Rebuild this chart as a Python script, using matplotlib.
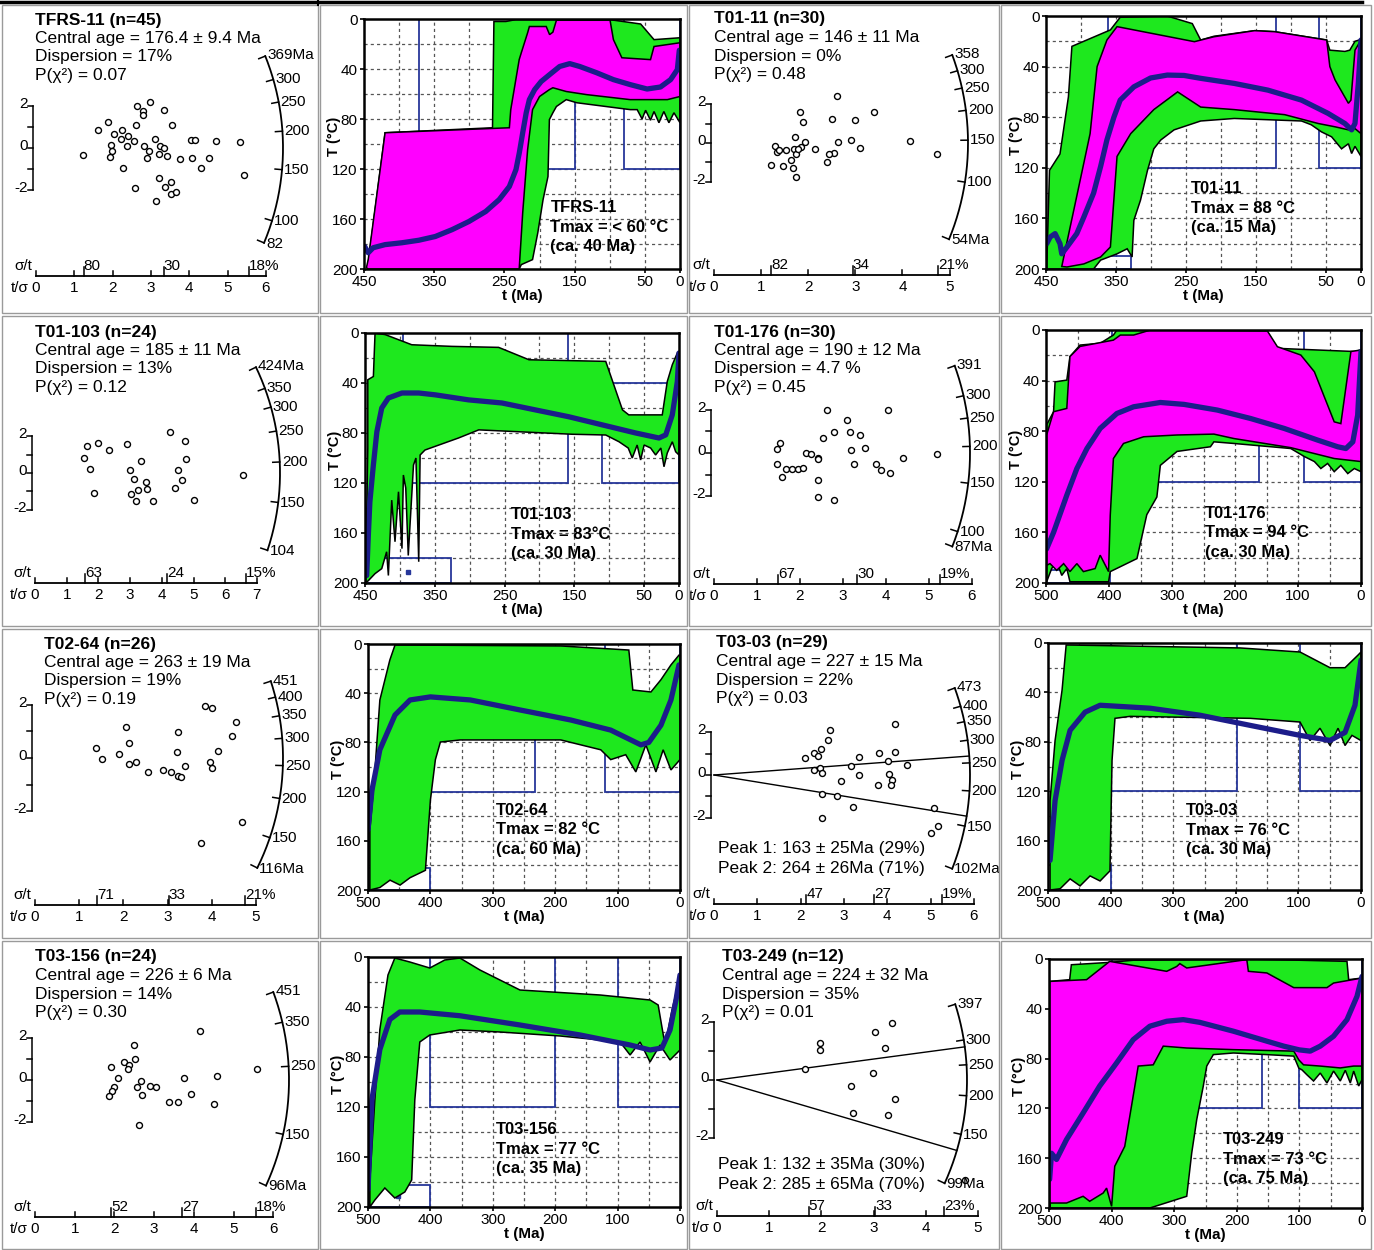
import numpy as np
import matplotlib
matplotlib.use('Agg')
import matplotlib.pyplot as plt
from matplotlib.patches import Rectangle, Polygon
from matplotlib.lines import Line2D

plt.rcParams['font.family'] = ['Liberation Sans', 'DejaVu Sans']

FW, FH = 1374, 1250
GREEN = '#1ee81e'
MAGENTA = '#ff00ff'
NAVY = '#1c1c8a'
BOXC = '#27379a'

# ---------------- radial plot data: (t/sigma, standardised estimate) ----------------
tfrs11_grains = [(1.22, -0.34), (1.61, 0.88), (1.87, 1.23), (1.96, 0.13), (1.98, -0.13), (1.94, -0.45),
                 (2.04, 0.66), (2.24, 0.85), (2.22, 0.45), (2.27, -0.94), (2.37, 0.11), (2.41, 0.56),
                 (2.55, 0.35), (2.60, 1.09), (2.59, -1.92), (2.65, 2.03), (2.79, 1.79), (2.79, 1.57),
                 (2.97, 2.21), (2.83, 0.11), (2.94, -0.16), (2.91, -0.48), (3.12, 0.45), (3.21, -0.27),
                 (3.24, 0.11), (3.35, -0.02), (3.35, 1.84), (3.43, -0.40), (3.20, -1.44), (3.37, -1.89),
                 (3.52, -1.65), (3.53, -2.22), (3.66, -2.13), (3.14, -2.53), (3.56, 1.09), (3.77, -0.53),
                 (4.06, 0.37), (4.16, 0.40), (4.07, -0.50), (4.30, -0.96), (4.53, -0.50), (4.70, 0.32),
                 (5.33, 0.29), (5.42, -1.28)]
t0111_grains = [(2.62, 2.40), (1.82, 1.58), (3.39, 1.61), (1.89, 1.08), (2.51, 1.24), (2.99, 1.17),
                (1.73, 0.31), (1.94, 0.05), (1.84, -0.22), (1.70, -0.29), (1.75, -0.55), (2.15, -0.33),
                (2.64, 0.07), (2.91, 0.14), (3.10, -0.27), (2.54, -0.52), (2.45, -0.57), (2.40, -0.98),
                (1.53, -0.36), (1.34, -0.48), (1.29, -0.17), (1.63, -0.86), (1.46, -1.18), (1.21, -1.13),
                (1.68, -1.29), (1.75, -1.75), (4.17, 0.12), (4.74, -0.55), (1.38, -0.38), (1.78, -0.31)]
t01103_grains = [(1.63, 1.47), (1.98, 1.65), (2.33, 1.27), (1.53, 0.82), (1.74, 0.22), (1.87, -1.07),
                 (2.89, 1.58), (3.35, 0.67), (3.00, 0.16), (3.11, -0.33), (3.49, -0.49), (3.53, -0.89),
                 (3.24, -0.95), (3.03, -1.13), (3.19, -1.53), (3.72, -1.53), (4.26, 2.24), (4.72, 1.75),
                 (4.76, 0.75), (4.52, 0.16), (4.65, -0.38), (4.42, -0.82), (5.03, -1.47), (6.56, -0.11)]
t01176_grains = [(2.62, 1.98), (4.05, 1.98), (3.09, 1.55), (2.78, 0.96), (3.16, 0.95), (3.40, 0.82),
                 (2.53, 0.71), (1.53, 0.48), (1.47, 0.17), (2.15, 0.00), (2.26, -0.03), (2.43, -0.25),
                 (3.18, 0.14), (3.51, 0.22), (4.40, -0.22), (5.19, -0.03), (1.46, -0.51), (1.58, -1.10),
                 (1.68, -0.76), (1.82, -0.74), (1.95, -0.74), (2.08, -0.71), (3.26, -0.51), (3.76, -0.51),
                 (3.88, -0.78), (4.09, -0.91), (2.43, -1.27), (2.43, -2.02), (2.78, -2.17), (2.42, -0.28)]
t0264_grains = [(1.38, 0.38), (1.52, -0.04), (2.05, 1.16), (2.13, 0.58), (1.90, 0.16), (2.13, -0.23),
                (2.28, -0.16), (2.55, -0.54), (2.90, -0.44), (3.07, -0.54), (3.23, -0.66), (3.30, -0.71),
                (3.39, -0.31), (3.21, 0.22), (3.24, 0.98), (3.85, 1.94), (4.00, 1.88), (4.54, 1.36),
                (4.46, 0.83), (4.14, 0.28), (3.97, -0.15), (4.00, -0.39), (4.69, -2.40), (3.76, -3.20)]
t0303_grains = [(4.17, 2.39), (2.69, 2.11), (2.63, 1.64), (2.46, 1.22), (2.31, 1.02), (2.40, 0.91),
                (2.11, 0.78), (3.80, 1.02), (4.18, 1.09), (3.35, 0.86), (4.02, 0.66), (4.46, 0.48),
                (3.17, 0.42), (2.30, 0.23), (2.44, 0.31), (2.50, 0.11), (3.35, 0.00), (4.05, 0.03),
                (2.94, -0.28), (3.78, -0.48), (4.12, -0.23), (4.08, -0.47), (2.49, -0.89), (2.85, -0.97),
                (3.22, -1.52), (2.49, -2.03), (5.09, -1.56), (5.17, -2.38), (5.00, -2.72)]
t03156_grains = [(4.16, 2.33), (2.50, 1.67), (2.24, 0.87), (2.37, 0.72), (2.33, 0.54), (2.53, 1.00),
                 (1.91, 0.61), (2.09, 0.09), (2.00, -0.31), (1.93, -0.52), (1.86, -0.76), (2.66, -0.03),
                 (2.57, -0.31), (2.69, -0.70), (2.89, -0.28), (3.06, -0.35), (3.76, 0.11), (3.92, -0.66),
                 (3.38, -1.02), (3.60, -1.05), (4.50, -1.14), (4.59, 0.18), (5.58, 0.51), (2.61, -2.14)]
t03249_grains = [(1.97, 1.28), (1.97, 1.03), (1.69, 0.38), (2.57, -0.21), (2.61, -1.14), (3.03, 1.66),
                 (2.99, 0.24), (3.22, 1.10), (3.35, 1.97), (3.28, -1.21), (3.41, -0.66), (4.75, -3.45)]

RADIAL = [
    dict(title='TFRS-11 (n=45)', lines=['Central age = 176.4 ± 9.4 Ma', 'Dispersion = 17%', 'P(χ²) = 0.07'],
         central=176.4, arc=[369, 300, 250, 200, 150, 100, 82],
         arc_labels=['369Ma', '300', '250', '200', '150', '100', '82'],
         tsmax=6, rel_err=[80, 30, 18], peaks=[], peak_lines=[], grains=tfrs11_grains),
    dict(title='T01-11 (n=30)', lines=['Central age = 146 ± 11 Ma', 'Dispersion = 0%', 'P(χ²) = 0.48'],
         central=146, arc=[358, 300, 250, 200, 150, 100, 54],
         arc_labels=['358', '300', '250', '200', '150', '100', '54Ma'],
         tsmax=5, rel_err=[82, 34, 21], peaks=[], peak_lines=[], grains=t0111_grains),
    dict(title='T01-103 (n=24)', lines=['Central age = 185 ± 11 Ma', 'Dispersion = 13%', 'P(χ²) = 0.12'],
         central=185, arc=[424, 350, 300, 250, 200, 150, 104],
         arc_labels=['424Ma', '350', '300', '250', '200', '150', '104'],
         tsmax=7, rel_err=[63, 24, 15], peaks=[], peak_lines=[], grains=t01103_grains),
    dict(title='T01-176 (n=30)', lines=['Central age = 190 ± 12 Ma', 'Dispersion = 4.7 %', 'P(χ²) = 0.45'],
         central=190, arc=[391, 300, 250, 200, 150, 100, 87],
         arc_labels=['391', '300', '250', '200', '150', '100', '87Ma'],
         tsmax=6, rel_err=[67, 30, 19], peaks=[], peak_lines=[], grains=t01176_grains),
    dict(title='T02-64 (n=26)', lines=['Central age = 263 ± 19 Ma', 'Dispersion = 19%', 'P(χ²) = 0.19'],
         central=263, arc=[451, 400, 350, 300, 250, 200, 150, 116],
         arc_labels=['451', '400', '350', '300', '250', '200', '150', '116Ma'],
         tsmax=5, rel_err=[71, 33, 21], peaks=[], peak_lines=[], grains=t0264_grains),
    dict(title='T03-03 (n=29)', lines=['Central age = 227 ± 15 Ma', 'Dispersion = 22%', 'P(χ²) = 0.03'],
         central=227, arc=[473, 400, 350, 300, 250, 200, 150, 102],
         arc_labels=['473', '400', '350', '300', '250', '200', '150', '102Ma'],
         tsmax=6, rel_err=[47, 27, 19], peaks=[163, 264],
         peak_lines=['Peak 1: 163 ± 25Ma (29%)', 'Peak 2: 264 ± 26Ma (71%)'], grains=t0303_grains),
    dict(title='T03-156 (n=24)', lines=['Central age = 226 ± 6 Ma', 'Dispersion = 14%', 'P(χ²) = 0.30'],
         central=226, arc=[451, 350, 250, 150, 96],
         arc_labels=['451', '350', '250', '150', '96Ma'],
         tsmax=6, rel_err=[52, 27, 18], peaks=[], peak_lines=[], grains=t03156_grains),
    dict(title='T03-249 (n=12)', lines=['Central age = 224 ± 32 Ma', 'Dispersion = 35%', 'P(χ²) = 0.01'],
         central=224, arc=[397, 300, 250, 200, 150, 99],
         arc_labels=['397', '300', '250', '200', '150', '99Ma'],
         tsmax=5, rel_err=[57, 33, 23], peaks=[132, 285],
         peak_lines=['Peak 1: 132 ± 35Ma (30%)', 'Peak 2: 285 ± 65Ma (70%)'], grains=t03249_grains),
]

# layout of each radial cell (pixels relative to the cell corner)
RAD_LAYOUT = [
    dict(cell=(0, 0), origin=(36, 148), sx=38.3, sy=20.8, R=247, axis_y=276, text=(35, 20)),
    dict(cell=(688, 0), origin=(26, 143), sx=47.1, sy=19.4, R=254, axis_y=275, text=(26, 19)),
    dict(cell=(0, 315), origin=(35, 158), sx=31.7, sy=18.3, R=245, axis_y=268, text=(35, 17)),
    dict(cell=(688, 315), origin=(26, 138), sx=43.0, sy=21.6, R=256, axis_y=269, text=(26, 17)),
    dict(cell=(0, 628), origin=(35, 130), sx=44.2, sy=26.7, R=248, axis_y=277, text=(44, 16)),
    dict(cell=(688, 628), origin=(26, 147), sx=43.3, sy=21.3, R=256, axis_y=276, text=(28, 15), peak_text=(30, 221)),
    dict(cell=(0, 940), origin=(35, 140), sx=39.7, sy=21.2, R=254, axis_y=277, text=(35, 17)),
    dict(cell=(688, 940), origin=(29, 140), sx=52.2, sy=29.0, R=250, axis_y=276, text=(34, 17), peak_text=(30, 225)),
]

# ---------------- thermal history data: (t in Ma, T in degC) ----------------
tfrs11_acc = [(444, 195), (420, 91), (267, 87), (265, 2), (248, 2), (234, 0.5), (100, 0.5), (56, 4), (37, 16.5),
              (0, 15), (0, 83), (8.6, 75), (15.8, 83), (23, 74), (30, 83), (37, 74), (42, 81), (49, 73), (54, 80),
              (61, 72.5), (71, 72.5), (147, 67), (162, 64.5), (176, 70), (181, 75), (186, 80.5), (188, 126),
              (195, 144.5), (202.5, 171), (210, 192.5), (226, 196.5), (229, 200), (377, 200), (380, 192.5),
              (415.5, 195), (420, 199), (444, 198)]
tfrs11_good = [(446.6, 199), (444, 192.5), (420, 91), (243, 87), (241, 72.5), (229, 32.5), (226, 27), (217, 11),
               (214.5, 6), (190.5, 6), (185.7, 12.5), (181, 10.5), (176, 1), (99.6, 1), (94.8, 16.5), (82.8, 31),
               (42, 32.5), (37, 22), (0, 19), (0, 62), (18, 64.5), (42, 64.5), (71, 64.5), (133, 60.5), (162, 58),
               (181, 55), (186, 56.5), (200, 62), (210, 72.5), (217, 104.5), (224, 155), (229, 200), (444, 200)]
tfrs11_best = [(449, 182), (444, 187), (437, 183), (420, 180.5), (396, 179), (372, 177), (348.5, 174),
               (324.5, 168.5), (300.6, 162), (276.7, 154), (257.5, 144.5), (243, 134), (233.6, 120.5),
               (228.8, 107), (224, 91), (219, 75), (214.5, 64.5), (207, 56.5), (197.7, 50), (185.7, 44.5),
               (171.4, 38), (157, 35.7), (142.7, 38), (118.7, 43), (94.8, 48.5), (70.8, 52.5), (46.9, 56),
               (27.8, 54.4), (13.4, 48.5), (3.8, 40.5), (1, 25)]
tfrs11_boxes = [(371, 150, 0, 120), (80, 0, 0, 120)]

t0111_acc = [(449, 200), (445, 122), (430, 109), (418, 64), (413, 24), (358, 11), (344, 1), (277, 0), (241, 6),
             (229, 19), (210, 16), (152, 11.6), (123.5, 12.4), (49, 19), (44.5, 27), (23, 28), (16, 27), (8.6, 20),
             (0, 18.5), (0, 111), (8.6, 103), (13.4, 108.7), (18, 101), (27.8, 105), (42, 95.5), (56.5, 91.6),
             (71, 86), (85, 83), (133, 82), (181, 81), (229, 83), (267, 90), (286, 98), (296, 105), (305, 122),
             (315, 145.6), (324.5, 161.5), (327, 190.5), (334, 184), (348.5, 188), (372, 193), (382, 200)]
t0111_good = [(427.5, 198), (387, 93), (377, 40), (363, 19), (348.5, 8.4), (238, 20.3), (210, 16.4), (152, 11.6),
              (123.5, 12.4), (49, 19), (44.5, 40), (37, 50.6), (18, 69), (14.4, 66.5), (8.6, 27), (0, 19),
              (0, 93), (8.6, 89), (18, 90), (37, 87.6), (61, 85), (109, 78), (181, 74), (229, 72), (262, 60),
              (296, 74), (329, 93), (348.5, 111), (358, 182.6), (372, 190.5), (396, 196), (420, 198.4)]
t0111_best = [(449, 180), (444, 174.7), (437, 172), (430, 180), (427.5, 188), (420, 182.6), (406, 172), (396, 159),
              (382, 140), (372, 119), (363, 98), (353, 80), (344, 66.5), (324.5, 56), (300.6, 49), (276.7, 46.7),
              (252.7, 47), (228.8, 49.3), (181, 53.3), (133, 58.6), (85, 66.5), (47, 77), (23, 85), (13.4, 90),
              (8.6, 85), (3.8, 53), (0, 19)]
t0111_boxes = [(450, 328, 190, 200), (361, 121, 0, 120), (60, 0, 0, 120)]

t01103_acc = [(449, 200), (446, 92), (446, 37.4), (438, 34.8), (435.6, 0), (421, 1.3), (383, 9.4), (325.5, 10.7),
              (258.5, 11.5), (215, 21.4), (105, 22.7), (81, 61.5), (72, 65.5), (24, 65.5), (16.8, 38.8),
              (9.6, 25.4), (2.4, 16), (0, 16), (0, 97.6), (4.8, 95), (9.6, 87), (16.8, 96), (21.5, 107), (26, 92),
              (33.5, 97.6), (40.7, 92), (50, 89.6), (55, 101.6), (60, 89.6), (67, 100), (72.8, 92), (86, 87),
              (105, 81.6), (153, 81), (287, 77.5), (316, 84), (364, 93.6), (371, 97.6), (373, 183), (377, 100),
              (380.5, 105.6), (388, 178), (391.6, 124), (395, 113.6), (397, 172.5), (402, 127), (407, 167),
              (411.7, 133.7), (416.5, 194), (419, 175), (426, 188.5), (435.6, 192.5), (445, 198)]
t01103_best = [(447.6, 194), (446, 172.5), (445, 159), (443, 135), (438, 105.6), (433, 79), (426, 60),
               (416.5, 52), (397, 48), (373, 48), (349, 49.5), (301.6, 53.5), (253.7, 56), (206, 61.5), (158, 67),
               (110, 73.5), (62, 80), (28.7, 84), (19, 81.5), (9.6, 65.5), (2.4, 38.8), (0, 16)]
t01103_boxes = [(450, 327, 180, 200), (395, 159, 0, 120), (111, 0, 40, 120)]
t01103_dots = [(389, 191)]

t01176_acc = [(499, 199), (499, 75), (488, 64.6), (485.6, 41), (467, 39.6), (462, 21), (446, 11.9), (414, 10.5),
              (393, 4), (387.5, 0), (297, 0), (148.6, 1.3), (132.7, 14.5), (10.6, 17), (0, 15.8), (0, 112),
              (10.6, 109.5), (21, 113.5), (32, 107), (42.5, 112), (53, 105.5), (63.7, 109.5), (74, 104), (90, 100),
              (111.5, 93.7), (201.7, 89.7), (233.5, 88.4), (239, 92.3), (292, 96), (318.5, 107), (324, 132),
              (340, 146), (355.6, 180.7), (398, 191), (400.7, 199), (462, 199), (467, 188.6), (475, 194),
              (483, 183), (491, 188.6)]
t01176_good = [(499, 186), (499, 83), (488, 64.6), (467, 62), (462, 21), (446, 13), (393, 8), (382, 4), (361, 4),
               (334, 0), (148.6, 0.8), (132.7, 13.2), (95.5, 19.8), (74, 33), (42.5, 72.6), (32, 74), (16, 17),
               (0, 15.8), (0, 104), (42.5, 101.6), (85, 96.3), (111.5, 93), (201.7, 85.8), (233.5, 82.3),
               (292, 83), (345, 84.4), (377, 89.7), (393, 101.6), (398, 146.4), (400.7, 191), (414, 178),
               (422, 188.6), (440.6, 191), (451, 184.7), (462, 191), (472, 184.7), (483, 190), (493.6, 184.7)]
t01176_best = [(499, 173), (488, 160), (467, 130.6), (451, 109.5), (435, 93.7), (414, 77.8), (387.5, 66),
               (361, 60.7), (318.5, 57.3), (281, 58.8), (228, 63.3), (175, 70), (122, 77.8), (69, 87), (37, 92.3),
               (24, 93.7), (13, 88.4), (5.3, 67.3), (0, 17)]
t01176_boxes = [(500, 398, 190, 200), (395, 162, 0, 120), (90, 0, 0, 120)]

t0264_acc = [(497, 200), (497, 151), (490, 110.6), (481, 45.5), (465, 13), (456.7, 0.8), (191, 1.6), (82, 4.9),
             (75.6, 37.4), (46.6, 39), (30.5, 29), (14.5, 17), (1.6, 9), (0, 9), (0, 94), (14.5, 102.4), (27, 86),
             (38.6, 104), (54.7, 82), (70.8, 104), (87, 90), (111, 94), (127, 86), (159, 82), (191, 78), (352, 78),
             (384, 79.7), (392, 94), (400, 127), (408, 184), (432.6, 190), (448.6, 196), (464.7, 192), (481, 198)]
t0264_best = [(500, 151), (493.6, 118.7), (481, 86), (456.7, 57.7), (432.6, 45.5), (400, 43), (336, 45.5),
              (255.7, 53.7), (175, 61.8), (111, 70), (62.7, 82), (50, 80), (30.5, 66), (14.5, 45.5), (1.6, 17)]
t0264_boxes = [(500, 400, 182, 200), (400, 231.6, 0, 120), (120.6, 0, 0, 120)]

t0303_acc = [(496.7, 200), (496.7, 127.6), (488.7, 79), (477.5, 38), (471, 1.6), (193, 4), (97.4, 7.3),
             (49.5, 20), (25.5, 20), (4.8, 9.8), (0, 7.3), (0, 79), (14.4, 74.8), (25.5, 83), (36.7, 69),
             (49.5, 83), (65.5, 69), (81.4, 79), (97.4, 64), (177, 61), (369, 59.4), (393, 61), (397.7, 95),
             (401, 184.5), (416.8, 192.7), (432.8, 188.6), (448.8, 196.7), (464.7, 191), (480.7, 199)]
t0303_best = [(496.7, 176), (488.7, 127.6), (477.5, 95), (464.7, 70.7), (440.8, 56), (416.8, 50.4), (337, 52.8),
              (257, 58.5), (177, 66.7), (97.4, 74.8), (49.5, 78.9), (25.5, 72.4), (9.6, 50.4), (0, 13.8)]
t0303_boxes = [(500, 400, 180, 200), (400, 198, 0, 120), (98, 0, 0, 120)]

t03156_acc = [(497, 200), (497, 178), (489, 114), (481, 58), (468, 14.4), (457, 0.8), (433, 4), (401, 8.8),
              (377, 2.4), (352.7, 0.8), (320.6, 10.4), (256.5, 26.4), (128, 30.4), (48, 34.4), (35, 38.4),
              (24, 70.4), (12.8, 42.4), (3.2, 22.4), (0, 18.4), (0, 74.4), (16, 82.4), (32, 70.4), (48, 84),
              (64, 68), (80, 78.4), (96, 68), (128, 66.4), (192, 63.2), (288.5, 60), (352.7, 58.4), (401, 62.4),
              (417, 68), (425, 114.4), (430, 178.4), (441, 188), (457, 192.8), (473, 184.8), (489, 194.4)]
t03156_best = [(500, 186), (493.7, 114), (481, 74), (465, 50), (449, 44), (417, 44), (352.7, 47), (256.5, 54.4),
               (160, 62.4), (80, 70.4), (48, 74.4), (29, 72.8), (16, 58.4), (6.4, 34.4), (0, 14.4)]
t03156_boxes = [(500, 400, 182, 200), (400, 200, 0, 120), (99, 0, 0, 120)]
t03156_dots = [(452, 191)]

t03249_acc = [(499, 200), (499, 18), (467, 16.6), (464.3, 4.6), (403, 2.7), (365.5, 1), (184, 0), (24, 1.9),
              (21.3, 16.6), (0, 15.3), (0, 97), (5.3, 102), (13.3, 90), (18.7, 99.6), (26.7, 89.4), (34.7, 98),
              (45.4, 90), (56, 99.6), (66.7, 91.6), (77.4, 98), (88, 93), (96, 89), (101, 87.6), (109, 78),
              (152, 76.8), (205.4, 75.5), (237.5, 76.8), (248, 86), (253.5, 102), (264, 129), (272, 155.8),
              (280, 190.6), (338.8, 200)]
t03249_good = [(499, 200), (499, 18), (440, 16.6), (403, 1.9), (312, 9.9), (296, 6), (291, 3.7), (280, 7.2),
               (184, 0.5), (181.5, 9.9), (152, 11.2), (109, 23), (56, 23), (45.4, 19.3), (0, 15.3), (0, 86),
               (13.3, 86), (34.7, 87.5), (66.7, 86), (93.4, 85), (101, 81), (109, 74), (205.4, 72.8), (280, 71.5),
               (317.5, 70), (333.5, 85), (357.5, 86), (379, 150.5), (395, 166.5), (400, 198.7), (403, 193.3),
               (408, 184), (413.5, 188), (435, 194.6), (445.5, 190.6), (472, 196), (499, 196)]
t03249_best = [(499, 177), (496, 156), (488, 161), (472, 145), (445.5, 123.7), (419, 102), (392, 83.5),
               (365.5, 64.8), (339, 54), (312, 50), (285.5, 48.7), (259, 50.9), (205.4, 58), (152, 66), (125, 70),
               (100, 73), (82.7, 74), (66.7, 70), (45.4, 62), (24, 48.7), (8, 30), (0, 14)]
t03249_boxes = [(400, 160, 0, 120), (100, 0, 0, 120)]

THERMAL = [
    dict(tmax=450, acc=tfrs11_acc, good=tfrs11_good, best=tfrs11_best, boxes=tfrs11_boxes, dots=[],
         note=['TFRS-11', 'Tmax = < 60 °C', '(ca. 40 Ma)']),
    dict(tmax=450, acc=t0111_acc, good=t0111_good, best=t0111_best, boxes=t0111_boxes, dots=[],
         note=['T01-11', 'Tmax = 88 °C', '(ca. 15 Ma)']),
    dict(tmax=450, acc=t01103_acc, good=None, best=t01103_best, boxes=t01103_boxes, dots=t01103_dots,
         note=['T01-103', 'Tmax = 83°C', '(ca. 30 Ma)']),
    dict(tmax=500, acc=t01176_acc, good=t01176_good, best=t01176_best, boxes=t01176_boxes, dots=[],
         note=['T01-176', 'Tmax = 94 °C', '(ca. 30 Ma)']),
    dict(tmax=500, acc=t0264_acc, good=None, best=t0264_best, boxes=t0264_boxes, dots=[],
         note=['T02-64', 'Tmax = 82 °C', '(ca. 60 Ma)']),
    dict(tmax=500, acc=t0303_acc, good=None, best=t0303_best, boxes=t0303_boxes, dots=[],
         note=['T03-03', 'Tmax = 76 °C', '(ca. 30 Ma)']),
    dict(tmax=500, acc=t03156_acc, good=None, best=t03156_best, boxes=t03156_boxes, dots=t03156_dots,
         note=['T03-156', 'Tmax = 77 °C', '(ca. 35 Ma)']),
    dict(tmax=500, acc=t03249_acc, good=t03249_good, best=t03249_best, boxes=t03249_boxes, dots=[],
         note=['T03-249', 'Tmax = 73 °C', '(ca. 75 Ma)']),
]

# axes rectangles in pixels (left, right, top, bottom) and note position (axes fraction)
TH_LAYOUT = [
    dict(rect=(364, 680, 19, 269), note=(0.59, 0.245)),
    dict(rect=(1046, 1361, 16, 269), note=(0.46, 0.318)),
    dict(rect=(365, 679, 333, 583), note=(0.466, 0.272)),
    dict(rect=(1046, 1361, 330, 583), note=(0.505, 0.275)),
    dict(rect=(368, 680, 644, 890), note=(0.41, 0.325)),
    dict(rect=(1048, 1361, 643, 890), note=(0.44, 0.32)),
    dict(rect=(368, 680, 957, 1207), note=(0.41, 0.31)),
    dict(rect=(1049, 1362, 959, 1208), note=(0.555, 0.274)),
]

fig = plt.figure(figsize=(FW / 100, FH / 100), dpi=100)


def draw_radial(info, lay):
    cx, cy = lay['cell']
    w, h = 316, 312
    ax = fig.add_axes([cx / FW, 1 - (cy + h) / FH, w / FW, h / FH])
    ox, oy = lay['origin']
    sx, sy = lay['sx'], lay['sy']
    ax.set_xlim(-ox / sx, (w - ox) / sx)
    ax.set_ylim(-(h - oy) / sy, oy / sy)
    ax.axis('off')
    R = lay['R']
    t0 = info['central']

    def ang(t):
        return np.arctan(np.log(t / t0) * sy / sx)

    # peak lines
    for p in info['peaks']:
        a = ang(p)
        ax.plot([0, R * np.cos(a) / sx], [0, R * np.sin(a) / sy], color='black', lw=1.0)

    # age arc
    th = np.linspace(ang(min(info['arc'])), ang(max(info['arc'])), 150)
    ax.plot(R * np.cos(th) / sx, R * np.sin(th) / sy, color='black', lw=1.3)
    for age, lab in zip(info['arc'], info['arc_labels']):
        a = ang(age)
        c, s = np.cos(a), np.sin(a)
        ax.plot([(R - 7) * c / sx, R * c / sx], [(R - 7) * s / sy, R * s / sy], color='black', lw=1.1)
        ax.text((R + 2) * c / sx, (R + 2) * s / sy, lab, fontsize=11, ha='left', va='center')

    # grains
    xs, zs = zip(*info['grains'])
    ax.plot(xs, zs, 'o', ls='none', ms=4.3, mfc='white', mec='black', mew=1.0, clip_on=False)

    # z axis
    zx = -3 / sx
    ax.plot([zx, zx], [-2, 2], color='black', lw=1.1)
    for z in range(-2, 3):
        ax.plot([zx - 5 / sx, zx], [z, z], color='black', lw=1.1)
    for z in (2, 0, -2):
        ax.text(zx - 5 / sx, z + 2 / sy, str(z), ha='right', va='center', fontsize=11)

    # precision axis
    ya = -(lay['axis_y'] - oy) / sy
    tsmax = info['tsmax']
    ax.plot([0, tsmax], [ya, ya], color='black', lw=1.3)
    for k in range(tsmax + 1):
        ax.plot([k, k], [ya, ya + 5 / sy], color='black', lw=1.1)
        ax.text(k, ya - 5 / sy, str(k), ha='center', va='top', fontsize=11)
    for i, p in enumerate(info['rel_err']):
        x = 100 / p
        ax.plot([x, x], [ya, ya + 9 / sy], color='black', lw=1.1)
        lab = f'{p}%' if i == len(info['rel_err']) - 1 else str(p)
        ax.text(x, ya + 3 / sy, lab, ha='left', va='bottom', fontsize=11)
    ax.text(-4 / sx, ya + 3 / sy, 'σ/t', ha='right', va='bottom', fontsize=11)
    ax.text(-7 / sx, ya - 5 / sy, 't/σ', ha='right', va='top', fontsize=11)

    # text block
    tx, ty = lay['text']
    ax.text(tx / w, 1 - ty / h, info['title'], transform=ax.transAxes, fontsize=12.5,
            fontweight='bold', va='center', ha='left')
    for i, line in enumerate(info['lines']):
        ax.text(tx / w, 1 - (ty + 18.5 * (i + 1)) / h, line, transform=ax.transAxes,
                fontsize=12.5, va='center', ha='left')
    if info['peak_lines']:
        px, py = lay['peak_text']
        for i, line in enumerate(info['peak_lines']):
            ax.text(px / w, 1 - (py + 20 * i) / h, line, transform=ax.transAxes,
                    fontsize=12.5, va='center', ha='left')


def draw_thermal(info, lay):
    l, r, t, b = lay['rect']
    ax = fig.add_axes([l / FW, 1 - b / FH, (r - l) / FW, (b - t) / FH])
    tmax = info['tmax']
    ax.set_xlim(tmax, 0)
    ax.set_ylim(200, 0)
    for g in range(50, tmax, 50):
        ax.axvline(g, color='#555555', lw=0.9, ls=(0, (2.5, 2.5)), zorder=0.5)
    for g in range(20, 200, 20):
        ax.axhline(g, color='#555555', lw=0.9, ls=(0, (2.5, 2.5)), zorder=0.5)
    for (ta, tb, Ta, Tb) in info['boxes']:
        ax.add_patch(Rectangle((tb, Ta), ta - tb, Tb - Ta, fill=False, ec=BOXC, lw=1.3, zorder=1))
    ax.add_patch(Polygon(info['acc'], closed=True, fc=GREEN, ec='black', lw=1.1, zorder=2))
    if info['good'] is not None:
        ax.add_patch(Polygon(info['good'], closed=True, fc=MAGENTA, ec='black', lw=1.1, zorder=3))
    bt, bT = zip(*info['best'])
    ax.plot(bt, bT, color=NAVY, lw=3.8, zorder=4, solid_capstyle='round', solid_joinstyle='round')
    for (dt, dT) in info['dots']:
        ax.plot(dt, dT, 's', color=BOXC, ms=2.5, zorder=1.5)
    if tmax == 450:
        ax.set_xticks([450, 350, 250, 150, 50, 0])
    else:
        ax.set_xticks([500, 400, 300, 200, 100, 0])
    ax.set_yticks(range(0, 201, 40))
    ax.tick_params(labelsize=11, length=3, width=1.2, pad=1.5)
    ax.set_xlabel('t (Ma)', fontsize=11, fontweight='bold', labelpad=0)
    ax.set_ylabel('T (°C)', fontsize=10.5, fontweight='bold')
    ax.yaxis.set_label_coords(-0.074, 0.53)
    for s in ax.spines.values():
        s.set_linewidth(1.8)
        s.set_zorder(5)
    nx, ny = lay['note']
    hh = b - t
    for i, line in enumerate(info['note']):
        ax.text(nx, ny - i * 19.5 / hh, line, transform=ax.transAxes, fontsize=12,
                fontweight='bold', va='center', ha='left', zorder=6)


for info, lay in zip(RADIAL, RAD_LAYOUT):
    draw_radial(info, lay)
for info, lay in zip(THERMAL, TH_LAYOUT):
    draw_thermal(info, lay)

# cell frames
cols = [(2, 318), (320, 687), (689, 999), (1001, 1371)]
rows = [(5, 313), (316, 626), (629, 938), (941, 1249)]
for (y0, y1) in rows:
    for (x0, x1) in cols:
        fig.add_artist(Rectangle((x0 / FW, 1 - y1 / FH), (x1 - x0) / FW, (y1 - y0) / FH,
                                 transform=fig.transFigure, fill=False, ec='#9a9a9a', lw=1.0))
fig.add_artist(Line2D([0, 1362 / FW], [1 - 2 / FH, 1 - 2 / FH], transform=fig.transFigure,
                      color='black', lw=2.5))
fig.add_artist(Line2D([318 / FW, 318 / FW], [1, 1 - 5 / FH], transform=fig.transFigure,
                      color='black', lw=1.5))

fig.savefig('out.png', dpi=100)
